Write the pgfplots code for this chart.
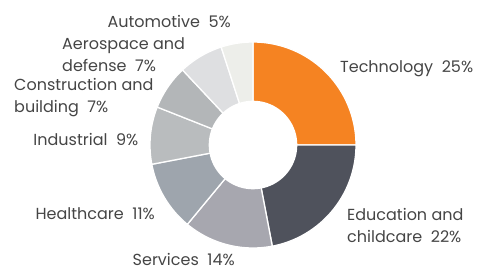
\documentclass[border=0pt]{standalone}
\usepackage{fontspec}
\setmainfont{Poppins}
\usepackage{pgfplots}
\pgfplotsset{compat=1.18}
\usepgfplotslibrary{polar}
\definecolor{ctech}{HTML}{F58322}
\definecolor{cedu}{HTML}{4F525C}
\definecolor{cserv}{HTML}{A7A7AF}
\definecolor{chealth}{HTML}{9EA5AD}
\definecolor{cind}{HTML}{B9BCBE}
\definecolor{ccons}{HTML}{B3B6B8}
\definecolor{caero}{HTML}{DEDFE1}
\definecolor{cauto}{HTML}{EDEEEA}
\definecolor{txt}{HTML}{454545}
\begin{document}
\begin{tikzpicture}
\useasboundingbox (0bp,0bp) rectangle (479bp,271bp);
% shares (%): Technology 25, Education 22, Services 14, Healthcare 11,
% Industrial 9, Construction 7, Aerospace 7, Automotive 5
% start at 90 deg, clockwise; 1% = 3.6 deg
\begin{polaraxis}[
  at={(253bp,126bp)}, anchor=center,
  hide axis, scale only axis,
  width=206bp, height=206bp,
  ymin=0, ymax=1, xmin=0, xmax=360,
  clip=false,
]
\addplot[fill=ctech,  draw=white, line width=1.3pt, domain=0:90,        samples=60] {1} -- (axis cs:0,0) -- cycle;
\addplot[fill=cedu,   draw=white, line width=1.3pt, domain=-79.2:0,     samples=60] {1} -- (axis cs:0,0) -- cycle;
\addplot[fill=cserv,  draw=white, line width=1.3pt, domain=-129.6:-79.2, samples=40] {1} -- (axis cs:0,0) -- cycle;
\addplot[fill=chealth,draw=white, line width=1.3pt, domain=-169.2:-129.6,samples=40] {1} -- (axis cs:0,0) -- cycle;
\addplot[fill=cind,   draw=white, line width=1.3pt, domain=158.4:190.8, samples=40] {1} -- (axis cs:0,0) -- cycle;
\addplot[fill=ccons,  draw=white, line width=1.3pt, domain=133.2:158.4, samples=30] {1} -- (axis cs:0,0) -- cycle;
\addplot[fill=caero,  draw=white, line width=1.3pt, domain=108:133.2,   samples=30] {1} -- (axis cs:0,0) -- cycle;
\addplot[fill=cauto,  draw=white, line width=1.3pt, domain=90:108,      samples=30] {1} -- (axis cs:0,0) -- cycle;
\addplot[fill=white, draw=none, domain=0:360, samples=180] {0.43} -- cycle;
\end{polaraxis}
\tikzset{lab/.style={text=txt, font=\fontsize{16bp}{22bp}\selectfont, inner sep=0pt}}
\node[lab, anchor=base west] at (340bp,198.3bp) {Technology\ \ 25\%};
\node[lab, anchor=base west] at (347bp,50.3bp) {Education and};
\node[lab, anchor=base west] at (347bp,28.7bp) {childcare\ \ 22\%};
\node[lab, anchor=base west] at (132.5bp,5.5bp) {Services\ \ 14\%};
\node[lab, anchor=base east] at (155bp,51bp) {Healthcare\ \ 11\%};
\node[lab, anchor=base east] at (138.5bp,125.3bp) {Industrial\ \ 9\%};
\node[lab, anchor=base west] at (14bp,180.3bp) {Construction and};
\node[lab, anchor=base west] at (14bp,158.7bp) {building\ \ 7\%};
\node[lab, anchor=base west] at (62bp,221.7bp) {Aerospace and};
\node[lab, anchor=base west] at (62bp,199.3bp) {defense\ \ 7\%};
\node[lab, anchor=base east] at (231bp,243.3bp) {Automotive\ \ 5\%};
\end{tikzpicture}
\end{document}
